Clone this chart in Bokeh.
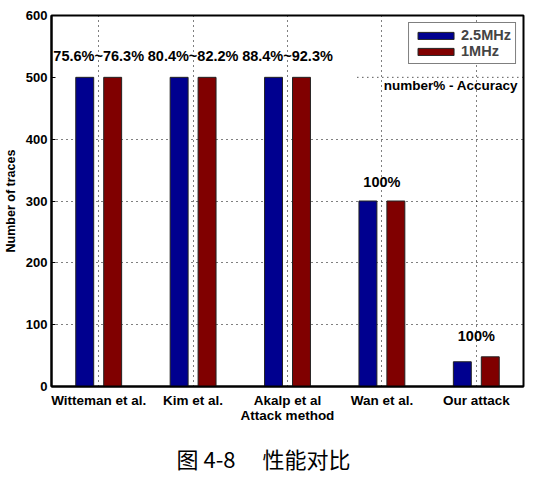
from bokeh.plotting import figure
from bokeh.models import FactorRange, Range1d, Legend, LegendItem, Title, FixedTicker, ColumnDataSource
from bokeh.transform import dodge
from bokeh.core.properties import value
from bokeh.embed import file_html
from bokeh.resources import INLINE

categories = ["Witteman et al.", "Kim et al.", "Akalp et al", "Wan et al.", "Our attack"]
traces_25mhz = [500, 500, 500, 300, 40]
traces_1mhz = [500, 500, 500, 300, 48]

acc_cats = ["Witteman et al.", "Kim et al.", "Akalp et al", "Wan et al.", "Our attack"]
acc_text = ["75.6%~76.3%", "80.4%~82.2%", "88.4%~92.3%", "100%", "100%"]
acc_y = [534, 534, 534, 330, 82]

note_text = "number% - Accuracy"
caption_text = "图 4-8\u3000\u00a0性能对比"

FONT = "Liberation Sans"

src = ColumnDataSource(dict(cat=categories, a=traces_25mhz, b=traces_1mhz))
acc = ColumnDataSource(dict(cat=acc_cats, txt=acc_text, y=acc_y))

p = figure(x_range=FactorRange(*categories, range_padding=0), y_range=Range1d(0, 600),
           width=534, height=488, output_backend="svg", toolbar_location=None,
           min_border_left=50, min_border_right=11, min_border_top=15, min_border_bottom=101)

r1 = p.vbar(x=dodge("cat", -0.148, range=p.x_range), top="a", width=0.19, source=src,
            fill_color="#00008f", line_color="#222222", line_width=1)
r2 = p.vbar(x=dodge("cat", 0.148, range=p.x_range), top="b", width=0.19, source=src,
            fill_color="#800000", line_color="#222222", line_width=1)

p.text(x=dodge("cat", 0, range=p.x_range), y="y", text="txt", source=acc,
       text_align="center", text_baseline="middle", text_font=value(FONT),
       text_font_style="bold", text_font_size="14.5px", text_color="black")

# the dotted box edge above the note
note = ColumnDataSource(dict(c0=["Wan et al."], c1=["Our attack"], y=[500], ty=[486], txt=[note_text]))
p.segment(x0=dodge("c0", -0.26, range=p.x_range), x1=dodge("c1", 0.5, range=p.x_range),
          y0="y", y1="y", source=note, line_color="black", line_dash="1 4", line_width=1)
p.text(x=dodge("c0", 0.02, range=p.x_range), y="ty", text="txt", source=note,
       text_align="left", text_baseline="middle", text_font=value(FONT),
       text_font_style="bold", text_font_size="13.5px", text_color="black")

legend = Legend(items=[LegendItem(label="2.5MHz", renderers=[r1]),
                       LegendItem(label="1MHz", renderers=[r2])],
                location="top_right")
legend.margin = 7
legend.padding = 4
legend.spacing = 0
legend.glyph_width = 45
legend.glyph_height = 9
legend.label_height = 10
legend.label_standoff = 3
legend.label_text_font = FONT
legend.label_text_font_style = "bold"
legend.label_text_font_size = "14.5px"
legend.label_text_line_height = 0.65
legend.border_line_color = "black"
legend.border_line_width = 1.5
legend.background_fill_alpha = 1
p.add_layout(legend)

p.outline_line_color = "black"
p.outline_line_width = 2

p.xgrid.grid_line_color = "black"
p.xgrid.grid_line_dash = "1 4"
p.ygrid.grid_line_color = "black"
p.ygrid.grid_line_dash = "1 4"
p.ygrid.ticker = FixedTicker(ticks=[100, 200, 300, 400])

p.yaxis.ticker = FixedTicker(ticks=[0, 100, 200, 300, 400, 500, 600])
p.yaxis.axis_label = "Number of traces"
p.yaxis.axis_label_text_font = FONT
p.yaxis.axis_label_text_font_style = "bold"
p.yaxis.axis_label_text_font_size = "12.5px"
p.yaxis.axis_label_standoff = 5
p.yaxis.major_tick_in = 4
p.yaxis.major_tick_out = 0
p.yaxis.minor_tick_line_color = None
p.yaxis.major_label_standoff = 4
p.yaxis.major_label_text_font_size = "13px"

p.xaxis.axis_label = "Attack method"
p.xaxis.axis_label_text_font = FONT
p.xaxis.axis_label_text_font_style = "bold"
p.xaxis.axis_label_text_font_size = "13.5px"
p.xaxis.axis_label_standoff = -3
p.xaxis.major_tick_line_color = None
p.xaxis.major_label_standoff = 0
p.xaxis.major_label_text_font_size = "13.5px"

for ax in (p.xaxis, p.yaxis):
    ax.axis_line_color = "black"
    ax.axis_line_width = 2
    ax.major_label_text_font = FONT
    ax.major_label_text_font_style = "bold"
    ax.major_label_text_color = "black"
    ax.axis_label_text_color = "black"

caption = Title(text=caption_text, align="left", offset=125, standoff=29,
                text_font="Noto Sans CJK SC", text_font_size="22px",
                text_font_style="normal", text_color="black")
p.add_layout(caption, "below")

open("out.html", "w").write(file_html(p, INLINE))
